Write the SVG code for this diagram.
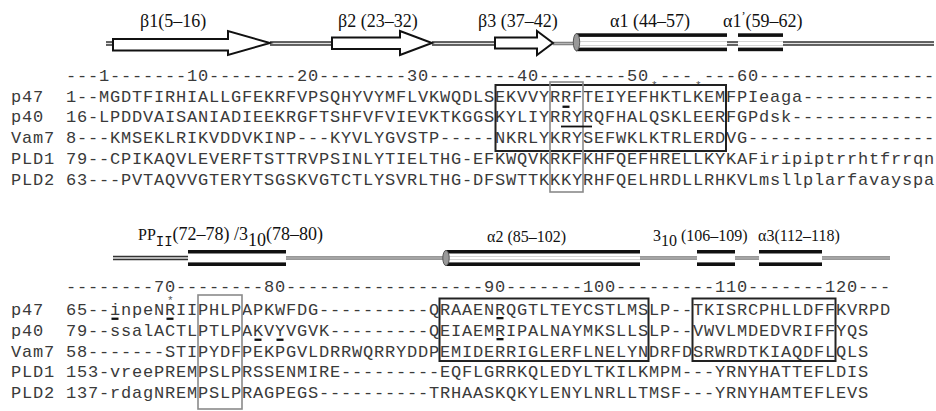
<svg xmlns="http://www.w3.org/2000/svg" width="936" height="411" viewBox="0 0 936 411">
<style>
.seq{font-family:"Liberation Mono","Courier New",monospace;font-size:17px;letter-spacing:0.8px;fill:#3a3a3a}
.lab{font-family:"Liberation Serif","Times New Roman",serif;font-size:18px;fill:#111}
.lab2{font-family:"Liberation Serif","Times New Roman",serif;font-size:16px;fill:#111}
.ast{font-family:"Liberation Mono",monospace;font-size:11px;fill:#555}
.arrow{fill:#fff;stroke:#111;stroke-width:2;stroke-linejoin:miter}
.bar{fill:#111}
.cap{fill:#999;stroke:#555;stroke-width:1}
.hin{fill:#fff}
.co{fill:none;stroke:#333;stroke-width:4.5}
.ci{fill:none;stroke:#e2e2e2;stroke-width:1.6}
.go{fill:none;stroke:#777;stroke-width:3.5}
.gi{fill:none;stroke:#b5b5b5;stroke-width:1.4}
.box{fill:none;stroke:#222;stroke-width:2}
.gbox{fill:none;stroke:#8a8a8a;stroke-width:1.6}
.ul{fill:#111}
</style>

<g id="connectors">
  <path class="co" d="M106 43.5H114M270 43.5H333M432 43.5H496M727 43.5H739M783 43.5H934"/>
  <path class="ci" d="M106 43.5H114M270 43.5H333M432 43.5H496M727 43.5H739M783 43.5H934"/>
  <path class="go" d="M553 43.5H576"/>
  <path class="gi" d="M553 43.5H576"/>
  <path class="co" d="M113 258H189"/>
  <path class="ci" d="M113 258H189"/>
  <path class="go" d="M286 258H444M640 258H698M735 258H760M822 258H890"/>
  <path class="gi" d="M286 258H444M640 258H698M735 258H760M822 258H890"/>
</g>

<g id="beta1">
  <polygon class="arrow" points="113,39 228,39 228,31 270,43 228,55 228,50.5 113,50.5"/>
  <text class="lab" x="140" y="27">β1(5–16)</text>
</g>
<g id="beta2">
  <polygon class="arrow" points="332,37.5 400,37.5 400,31 432,43 400,55 400,49 332,49"/>
  <text class="lab" x="338" y="27">β2 (23–32)</text>
</g>
<g id="beta3">
  <polygon class="arrow" points="495,37.5 537,37.5 537,31 553,43 537,55 537,48.5 495,48.5"/>
  <text class="lab" x="478" y="27">β3 (37–42)</text>
</g>
<g id="alpha1">
  <rect class="hin" x="574" y="36" width="153" height="12.5"/>
  <path d="M578 41.5H727M578 45.5H727" stroke="#d4d4d4" stroke-width="1"/>
  <rect class="bar" x="576" y="33.3" width="151" height="3.6"/>
  <rect class="bar" x="576" y="47.6" width="151" height="3.6"/>
  <ellipse class="cap" cx="576.5" cy="42.2" rx="3.2" ry="8.6"/>
  <text class="lab" x="610" y="27">α1 (44–57)</text>
</g>
<g id="alpha1p">
  <rect class="hin" x="738" y="36" width="45" height="12.5"/>
  <path d="M738 41.5H783M738 45.5H783" stroke="#d4d4d4" stroke-width="1"/>
  <rect class="bar" x="738" y="33.3" width="45" height="3.6"/>
  <rect class="bar" x="738" y="47.6" width="45" height="3.6"/>
  <text class="lab" x="723" y="27">α1<tspan style="font-size:12px" dy="-7">ʼ</tspan><tspan dy="7">(59–62)</tspan></text>
</g>

<g id="ruler1">
  <text class="seq" x="65.9" y="80.5">---1-------10--------20--------30--------40--------50 --- ---60----------------</text>
  <text class="ast" x="651" y="88.5">*</text>
  <text class="ast" x="695" y="88.5">*</text>
</g>
<g id="row1-p47">
  <text class="seq" x="10.9" y="101.5">p47</text>
  <text class="seq" x="65.9" y="101.5">1--MGDTFIRHIALLGFEKRFVPSQHYVYMFLVKWQDLSEKVVYRRFTEIYEFHKTLKEMFPIeaga------------</text>
</g>
<g id="row1-p40">
  <text class="seq" x="10.9" y="122.3">p40</text>
  <text class="seq" x="65.9" y="122.3">16-LPDDVAISANIADIEEKRGFTSHFVFVIEVKTKGGSKYLIYRRYRQFHALQSKLEERFGPdsk-------------</text>
</g>
<g id="row1-vam7">
  <text class="seq" x="10.9" y="143.1">Vam7</text>
  <text class="seq" x="65.9" y="143.1">8---KMSEKLRIKVDDVKINP---KYVLYGVSTP-----NKRLYKRYSEFWKLKTRLERDVG-----------------</text>
</g>
<g id="row1-pld1">
  <text class="seq" x="10.9" y="163.9">PLD1</text>
  <text class="seq" x="65.9" y="163.9">79--CPIKAQVLEVERFTSTTRVPSINLYTIELTHG-EFKWQVKRKFKHFQEFHRELLKYKAFiripiptrrhtfrrqn</text>
</g>
<g id="row1-pld2">
  <text class="seq" x="10.9" y="184.7">PLD2</text>
  <text class="seq" x="65.9" y="184.7">63---PVTAQVVGTERYTSGSKVGTCTLYSVRLTHG-DFSWTTKKKYRHFQELHRDLLRHKVLmsllplarfavayspa</text>
</g>
<g id="marks1">
  <rect class="box" x="495.5" y="85" width="230.5" height="66"/>
  <rect class="gbox" x="550" y="82" width="33" height="110"/>
  <rect class="ul" x="562.5" y="105.6" width="7" height="2.3"/>
  <rect class="ul" x="561" y="125.6" width="31" height="1.8"/>
</g>

<g id="ppII-310">
  <rect class="hin" x="188" y="253" width="98" height="9.5"/>
  <rect class="bar" x="188" y="250" width="98" height="3.5"/>
  <rect class="bar" x="188" y="262.4" width="98" height="3.6"/>
  <text class="lab2" x="138" y="240" style="font-size:18px"><tspan style="font-size:16px">PP</tspan><tspan dy="6" style="font-family:'Liberation Mono',monospace;font-size:14px">II</tspan><tspan dy="-6">(72–78) /3</tspan><tspan dy="6">10</tspan><tspan dy="-6">(78–80)</tspan></text>
</g>
<g id="alpha2">
  <rect class="hin" x="444" y="253" width="196" height="9.5"/>
  <path d="M448 256.5H640M448 259.5H640" stroke="#d4d4d4" stroke-width="1"/>
  <rect class="bar" x="446" y="250" width="194" height="3.5"/>
  <rect class="bar" x="446" y="262.4" width="194" height="3.6"/>
  <ellipse class="cap" cx="446" cy="258" rx="3.2" ry="7.6"/>
  <text class="lab2" x="487" y="242">α2 (85–102)</text>
</g>
<g id="h310">
  <rect class="hin" x="697" y="253" width="38" height="9.5"/>
  <rect class="bar" x="697" y="250" width="38" height="3.5"/>
  <rect class="bar" x="697" y="262.4" width="38" height="3.6"/>
  <text class="lab2" x="653" y="241">3<tspan dy="5">10</tspan><tspan dy="-5"> (106–109)</tspan></text>
</g>
<g id="alpha3">
  <rect class="hin" x="759" y="253" width="63" height="9.5"/>
  <rect class="bar" x="759" y="250" width="63" height="3.5"/>
  <rect class="bar" x="759" y="262.4" width="63" height="3.6"/>
  <text class="lab2" x="758" y="241">α3(112–118)</text>
</g>

<g id="ruler2">
  <text class="seq" x="65.9" y="292">--------70--------80------------------90-------100---------110-------120---</text>
  <text class="ast" x="167" y="303.5">*</text>
</g>
<g id="row2-p47">
  <text class="seq" x="10.9" y="315">p47</text>
  <text class="seq" x="65.9" y="315">65--inpeNRIIPHLPAPKWFDG----------QRAAENRQGTLTEYCSTLMSLP--TKISRCPHLLDFFKVRPD</text>
</g>
<g id="row2-p40">
  <text class="seq" x="10.9" y="335.8">p40</text>
  <text class="seq" x="65.9" y="335.8">79--ssalACTLPTLPAKVYVGVK---------QEIAEMRIPALNAYMKSLLSLP--VWVLMDEDVRIFFYQS</text>
</g>
<g id="row2-vam7">
  <text class="seq" x="10.9" y="356.6">Vam7</text>
  <text class="seq" x="65.9" y="356.6">58-------STIPYDFPEKPGVLDRRWQRRYDDPEMIDERRIGLERFLNELYNDRFDSRWRDTKIAQDFLQLS</text>
</g>
<g id="row2-pld1">
  <text class="seq" x="10.9" y="377.4">PLD1</text>
  <text class="seq" x="65.9" y="377.4">153-vreePREMPSLPRSSENMIRE---------EQFLGRRKQLEDYLTKILKMPM---YRNYHATTEFLDIS</text>
</g>
<g id="row2-pld2">
  <text class="seq" x="10.9" y="398.2">PLD2</text>
  <text class="seq" x="65.9" y="398.2">137-rdagNREMPSLPRAGPEGS----------TRHAASKQKYLENYLNRLLTMSF---YRNYHAMTEFLEVS</text>
</g>
<g id="marks2">
  <rect class="box" x="439.5" y="298.5" width="209" height="62.5"/>
  <rect class="box" x="692.5" y="298.5" width="143" height="62.5"/>
  <rect class="gbox" x="198" y="295" width="44" height="114"/>
  <rect class="ul" x="111.5" y="317.6" width="7" height="2.3"/>
  <rect class="ul" x="166.5" y="317.6" width="7" height="2.3"/>
  <rect class="ul" x="496.5" y="317" width="7" height="2.3"/>
  <rect class="ul" x="254.5" y="338.6" width="7" height="2.3"/>
  <rect class="ul" x="276.5" y="338.6" width="7" height="2.3"/>
  <rect class="ul" x="496.5" y="338" width="7" height="2.3"/>
</g>
</svg>
